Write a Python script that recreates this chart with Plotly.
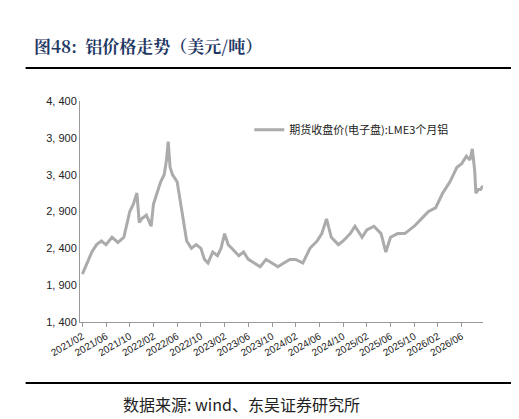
import plotly.graph_objects as go

tick_labels = ["2021/02","2021/06","2021/10","2022/02","2022/06","2022/10","2023/02","2023/06",
               "2023/10","2024/02","2024/06","2024/10","2025/02","2025/06","2025/10","2026/02","2026/06"]
pos = [0,0.2,0.4,0.6,0.8,1.0,1.25,1.5,1.75,2.0,2.15,2.3,2.4,2.5,2.7,2.9,3.0,3.15,3.3,3.45,3.55,3.62,3.7,
       3.8,4.0,4.2,4.4,4.6,4.8,5.0,5.15,5.3,5.5,5.7,5.85,6.0,6.15,6.3,6.6,6.8,7.0,7.25,7.5,7.75,8.0,8.25,
       8.5,8.75,9.0,9.3,9.6,9.9,10.1,10.3,10.5,10.8,11.0,11.3,11.5,11.8,12.0,12.3,12.6,12.8,13.0,13.3,
       13.6,14.0,14.3,14.6,14.9,15.2,15.5,15.8,16.0,16.2,16.35,16.45,16.55,16.6,16.7,16.8,16.9]
price = [2050,2200,2350,2450,2500,2450,2550,2480,2550,2900,3000,3150,2750,2800,2850,2700,3000,3150,3300,3400,3600,3850,3500,
         3400,3300,2900,2500,2400,2450,2400,2250,2200,2350,2300,2400,2600,2450,2400,2300,2350,2250,2200,2150,2250,2200,2150,
         2200,2250,2250,2200,2400,2500,2600,2800,2550,2450,2500,2600,2700,2550,2650,2700,2600,2350,2550,2600,
         2600,2700,2800,2900,2950,3150,3300,3500,3550,3650,3600,3750,3450,3150,3200,3200,3250]
yticks = [1400,1900,2400,2900,3400,3900,4400]

fig = go.Figure()
fig.add_trace(go.Scatter(x=pos, y=price, mode="lines", line=dict(color="#ababab", width=3),
                         name="期货收盘价(电子盘):LME3个月铝"))
fig.update_layout(
    width=519, height=419, paper_bgcolor="white", plot_bgcolor="white",
    margin=dict(l=72, r=44, t=93, b=105),
    showlegend=True,
    legend=dict(x=0.42, y=0.87, xanchor="left", yanchor="middle", bgcolor="rgba(0,0,0,0)",
                font=dict(family="Noto Sans CJK SC", size=11, color="#222")),
    xaxis=dict(range=[-0.1, 16.9], tickmode="array", tickvals=list(range(len(tick_labels))), ticktext=tick_labels,
               tickangle=-30, showgrid=False, showline=True, linecolor="#999", ticks="outside", ticklen=4,
               tickcolor="#999", tickfont=dict(family="Arial", size=10, color="#222")),
    yaxis=dict(range=[1400, 4400], tickmode="array", tickvals=yticks,
               ticktext=[f"{v:,}".replace(",", ", ") for v in yticks], showgrid=False, showline=True,
               linecolor="#999", zeroline=False, tickfont=dict(family="Arial", size=11, color="#222")),
)
fig.add_annotation(text="<b>图48:  铝价格走势（美元/吨）</b>", xref="paper", yref="paper", x=-0.12, y=1.0,
                   yshift=70, xanchor="left", showarrow=False,
                   font=dict(family="Noto Serif CJK SC, Noto Sans CJK SC", size=17, color="#1f3864"))
fig.add_shape(type="line", xref="paper", yref="paper", x0=-0.135, x1=1.1, y0=1.149, y1=1.149,
              line=dict(color="black", width=2))
fig.add_annotation(text="数据来源: wind、东吴证券研究所", xref="paper", yref="paper", x=0.4, y=0, yshift=-96,
                   showarrow=False, font=dict(family="Noto Sans CJK SC", size=16, color="#222"))
fig.add_shape(type="line", xref="paper", yref="paper", x0=-0.135, x1=1.1, y0=-0.276, y1=-0.276,
              line=dict(color="black", width=2))
fig.write_html("out.html")
